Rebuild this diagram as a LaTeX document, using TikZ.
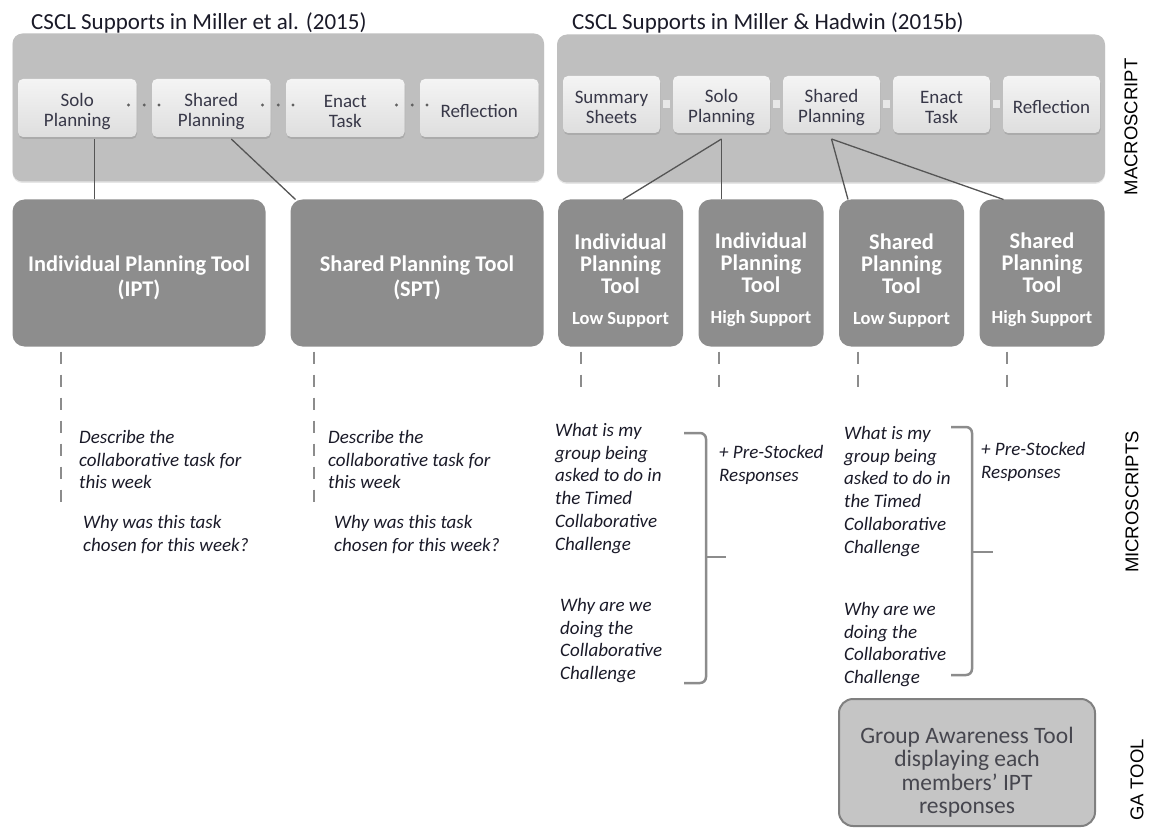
\documentclass[tikz,border=0pt]{standalone}
\usepackage{fontspec}
\setmainfont{Carlito}
\newfontfamily\labelfont{Liberation Sans}
\usetikzlibrary{positioning,shadows,calc}
\definecolor{PanelGray}{RGB}{191,191,191}
\definecolor{StageTop}{RGB}{244,244,244}
\definecolor{StageBottom}{RGB}{222,222,222}
\definecolor{StageInk}{RGB}{56,56,72}
\definecolor{StageDot}{RGB}{96,96,96}
\definecolor{GapGray}{RGB}{232,232,232}
\definecolor{ToolGray}{RGB}{141,141,141}
\definecolor{GaFill}{RGB}{197,197,197}
\definecolor{GaEdge}{RGB}{128,128,128}
\definecolor{GaInk}{RGB}{70,70,78}
\definecolor{LinkGray}{RGB}{85,85,85}
\definecolor{DashGray}{RGB}{140,140,140}
\definecolor{QuestionInk}{RGB}{26,26,40}
\tikzset{
  titletext/.style={anchor=base west, inner sep=0pt, text=QuestionInk,
    font=\fontsize{23}{26}\selectfont},
  panelbox/.style={fill=PanelGray, rounded corners=10pt, minimum width=#1,
    minimum height=148pt, inner sep=0pt, outer sep=0pt,
    drop shadow={opacity=0.2, shadow xshift=0pt, shadow yshift=-1.5pt}},
  panelbox/.default=540pt,
  stagebox/.style={rounded corners=5pt, top color=StageTop, bottom color=StageBottom,
    text=StageInk, align=center, minimum width=#1, minimum height=58pt,
    inner sep=0pt, outer sep=0pt, font=\fontsize{19}{20}\selectfont,
    drop shadow={opacity=0.3, shadow xshift=0.5pt, shadow yshift=-2pt}},
  stagebox/.default=118.5pt,
  % ---- herramientas de planificacion ----
  toolbox/.style={fill=ToolGray, rounded corners=12pt, text=white, align=center,
    minimum width=#1, minimum height=147pt, inner sep=0pt, outer sep=0pt,
    font=\bfseries\fontsize{22.4}{25}\selectfont},
  toolbox/.default=253pt,
  narrowtool/.style={toolbox=125pt, font=\bfseries\fontsize{22.4}{22}\selectfont},
  gabox/.style={draw=GaEdge, line width=2pt, fill=GaFill, rounded corners=14pt,
    text=GaInk, align=center, minimum width=256pt, minimum height=127pt,
    inner sep=0pt, font=\fontsize{23.5}{23.5}\selectfont},
  questiontext/.style={anchor=north west, align=left, inner sep=0pt, text=QuestionInk,
    font=\itshape\fontsize{19}{22.8}\selectfont},
  sidelabel/.style={rotate=90, inner sep=0pt, text=black,
    font=\labelfont\fontsize{18.5}{20}\selectfont},
  linkline/.style={draw=LinkGray, line width=1.3pt},
  dashline/.style={draw=DashGray, line width=2.2pt, dash pattern=on 12pt off 11pt},
  bracketline/.style={draw=DashGray, line width=2.5pt, rounded corners=6pt},
}
\newcommand{\liftline}[1]{\rule{0pt}{#1}}
\newcommand{\supportline}[1]{\\[9pt]{\fontsize{18.5}{20}\selectfont #1}}
\begin{document}
\begin{tikzpicture}[x=1pt, y=-1pt]
  \useasboundingbox (0,0) rectangle (1151,829);

  \node[titletext] (tl) at (31,30) {CSCL Supports in Miller et al. (2015)};
  \node[titletext] (tr) at (572,30) {CSCL Supports in Miller \& Hadwin (2015b)};

  % macroscript, izquierda
  \node[panelbox=531.5pt] (pl) at (278.25,107.5) {};
  \node[stagebox] (ls1) at (77.25,108) {\liftline{20pt}Solo\\Planning};
  \node[stagebox, right=15.5pt of ls1] (ls2) {\liftline{20pt}Shared\\Planning};
  \node[stagebox, right=15.5pt of ls2] (ls3) {\liftline{20pt}Enact\\Task};
  \node[stagebox, right=15.5pt of ls3] (ls4) {\liftline{20pt}Reflection};
  \foreach \a/\b in {ls1/ls2, ls2/ls3, ls3/ls4} {
    \fill[StageDot] ([xshift=-8pt, yshift=3pt]\a.east) circle (1.6pt);
    \fill[StageDot] ($(\a.east)!0.5!(\b.west) + (0,-3)$) circle (1.6pt);
    \fill[StageDot] ([xshift=7pt, yshift=3pt]\b.west) circle (1.6pt);
  }

  % macroscript, derecha
  \node[panelbox=548pt] (pr) at (831,108.5) {};
  \node[stagebox=97pt, minimum height=57pt] (rs1) at (611.5,104.5) {\liftline{19pt}Summary\\Sheets};
  \node[stagebox=97pt, minimum height=57pt, right=13pt of rs1] (rs2) {\liftline{19pt}Solo\\Planning};
  \node[stagebox=97pt, minimum height=57pt, right=13pt of rs2] (rs3) {\liftline{19pt}Shared\\Planning};
  \node[stagebox=97pt, minimum height=57pt, right=13pt of rs3] (rs4) {\liftline{19pt}Enact\\Task};
  \node[stagebox=97pt, minimum height=57pt, right=13pt of rs4] (rs5) {\liftline{19pt}Reflection};
  \foreach \a/\b in {rs1/rs2, rs2/rs3, rs3/rs4, rs4/rs5}
    \fill[GapGray] ($(\a.east)!0.5!(\b.west)$) +(-3.5,-4) rectangle +(3.5,4);

  % herramientas
  \node[toolbox] (ipt) at (139,273) {\liftline{26pt}Individual Planning Tool\\(IPT)};
  \node[toolbox, right=25pt of ipt] (spt) {\liftline{26pt}Shared Planning Tool\\(SPT)};
  \node[narrowtool] (ipl) at (620.5,273)
    {\liftline{30pt}Individual\\Planning\\Tool\supportline{Low Support}};
  \node[narrowtool, right=15.5pt of ipl] (iph)
    {\liftline{30pt}Individual\\Planning\\Tool\supportline{High Support}};
  \node[narrowtool, right=15.5pt of iph] (spl)
    {\liftline{30pt}Shared\\Planning\\Tool\supportline{Low Support}};
  \node[narrowtool, right=15.5pt of spl] (sph)
    {\liftline{30pt}Shared\\Planning\\Tool\supportline{High Support}};

  \draw[linkline] ([xshift=17pt, yshift=-2pt]ls1.south) -- ([xshift=17pt]ls1.south |- ipt.north);
  \draw[linkline] ([xshift=20pt, yshift=-2pt]ls2.south) -- ([xshift=5pt]spt.north west);
  \draw[linkline] ([yshift=-6pt]rs2.south) -- ([xshift=2.5pt]ipl.north);
  \draw[linkline] ([yshift=-6pt]rs2.south) -- (rs2.south |- iph.north);
  \draw[linkline] ([yshift=-6pt]rs3.south) -- ([xshift=9pt]spl.north west);
  \draw[linkline] ([yshift=-6pt]rs3.south) -- ([xshift=24pt]sph.north west);

  \draw[dashline] ([xshift=48.5pt, yshift=-5pt]ipt.south west) -- ++(0,150);
  \draw[dashline] ([xshift=23.5pt, yshift=-5pt]spt.south west) -- ++(0,150);
  \draw[dashline] ([xshift=23pt, yshift=-5pt]ipl.south west) -- ++(0,41);
  \draw[dashline] ([xshift=20.5pt, yshift=-5pt]iph.south west) -- ++(0,41);
  \draw[dashline] ([xshift=19pt, yshift=-5pt]spl.south west) -- ++(0,41);
  \draw[dashline] ([xshift=27.5pt, yshift=-5pt]sph.south west) -- ++(0,41);

  % microscripts
  \node[questiontext] (qa1) at (79,430) {Describe the\\collaborative task for\\this week};
  \node[questiontext] (qa2) at (83,515) {Why was this task\\chosen for this week?};
  \node[questiontext] (qb1) at (328,430) {Describe the\\collaborative task for\\this week};
  \node[questiontext] (qb2) at (334,515) {Why was this task\\chosen for this week?};
  \node[questiontext] (qc1) at (555,423)
    {What is my\\group being\\asked to do in\\the Timed\\Collaborative\\Challenge};
  \node[questiontext] (qc2) at (560,598) {Why are we\\doing the\\Collaborative\\Challenge};
  \node[questiontext] (pc) at (719,445) {+ Pre-Stocked\\Responses};
  \node[questiontext] (qd1) at (844,426)
    {What is my\\group being\\asked to do in\\the Timed\\Collaborative\\Challenge};
  \node[questiontext] (qd2) at (844,602) {Why are we\\doing the\\Collaborative\\Challenge};
  \node[questiontext] (pd) at (981,442) {+ Pre-Stocked\\Responses};

  \draw[bracketline] (684,433) -- (706,433) -- (706,683) -- (684,683);
  \draw[bracketline] (706,557) -- (726,557);
  \draw[bracketline] (951,427) -- (972,427) -- (972,675) -- (951,675);
  \draw[bracketline] (972,552) -- (993,552);

  \node[gabox] (ga) at (967,762.5)
    {\liftline{36pt}Group Awareness Tool\\displaying each\\members’ IPT\\responses};

  \node[sidelabel] (macro) at (1131,127) {MACROSCRIPT};
  \node[sidelabel] (micro) at (1132,502) {MICROSCRIPTS};
  \node[sidelabel] (gat) at (1137,780) {GA TOOL};
\end{tikzpicture}
\end{document}
